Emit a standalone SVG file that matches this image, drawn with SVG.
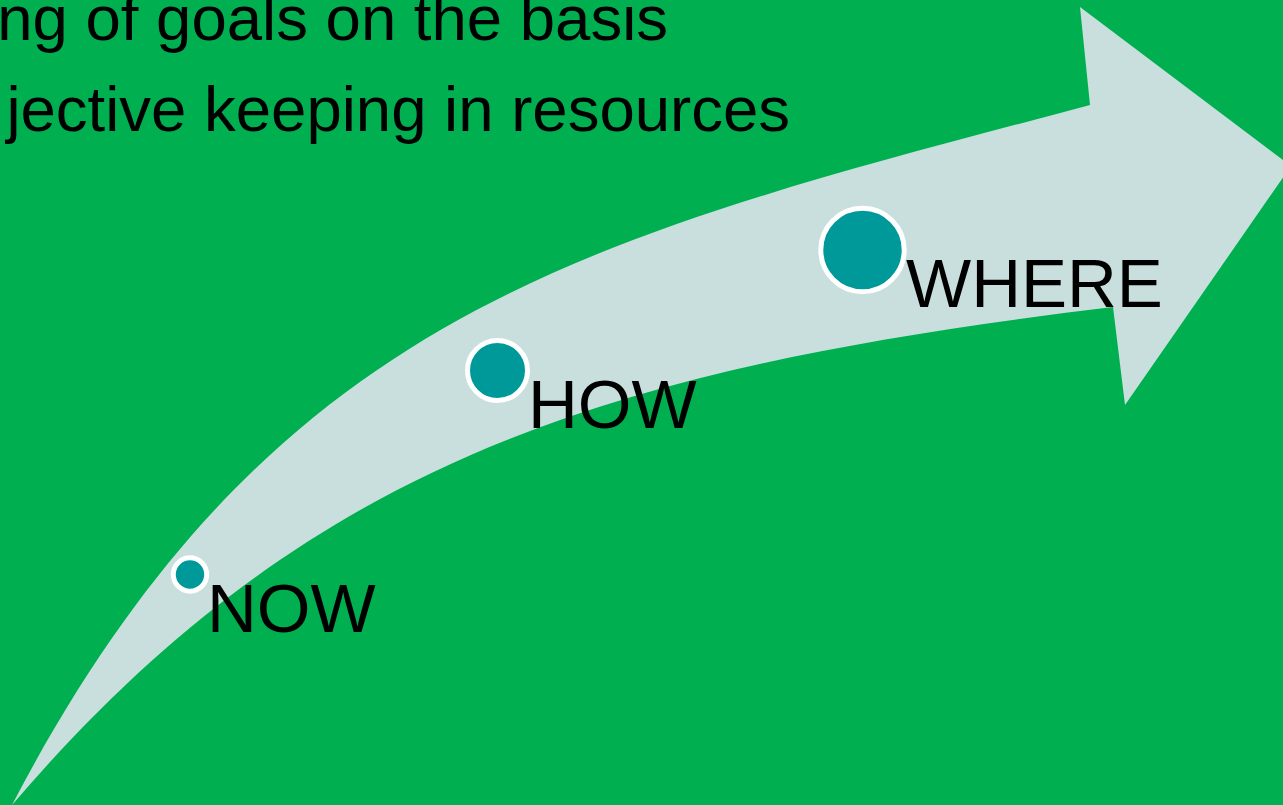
<svg xmlns="http://www.w3.org/2000/svg" width="1283" height="805" viewBox="0 0 1283 805">
  <style>
    .txt { font-family: "Liberation Sans", Arial, sans-serif; fill: #000000; }
    .top { font-size: 63.5px; }
    .lbl { font-size: 69px; }
    .dot { fill: #009999; stroke: #FFFFFF; stroke-width: 5; }
  </style>
  <rect x="0" y="0" width="1283" height="805" fill="#00AF50"/>
  <g id="heading">
    <text class="txt top" x="668" y="40" text-anchor="end">ng of goals on the basis</text>
    <text class="txt top" x="790" y="131" text-anchor="end">jective keeping in resources</text>
  </g>
  <g id="connectors">
    <path id="arrow" fill="#C9DFDD" d="M 12 805 C 271.5 308, 590 238, 1090 105 L 1080 7 L 1291 166 L 1125 405 L 1113 307 C 615 367, 310 456.5, 12 805 Z"/>
  </g>
  <g id="node-now">
    <circle class="dot" cx="190" cy="574.5" r="16.7"/>
    <text class="txt lbl" x="207" y="632">NOW</text>
  </g>
  <g id="node-how">
    <circle class="dot" cx="497.5" cy="370.5" r="30"/>
    <text class="txt lbl" x="528" y="428">HOW</text>
  </g>
  <g id="node-where">
    <circle class="dot" cx="862.5" cy="250" r="41.7"/>
    <text class="txt lbl" x="906" y="307">WHERE</text>
  </g>
</svg>
